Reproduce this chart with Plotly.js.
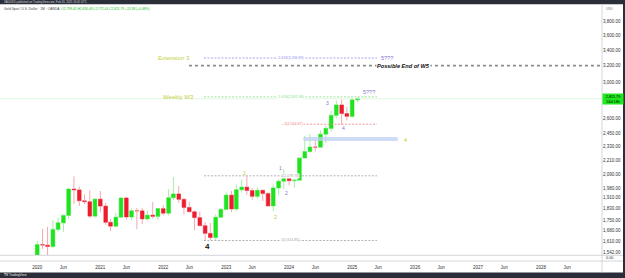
<!DOCTYPE html>
<html><head><meta charset="utf-8">
<script src="https://cdn.plot.ly/plotly-3.0.1.min.js"></script>
<style>html,body{margin:0;padding:0;background:#fff;overflow:hidden}#chart{width:625px;height:278px}</style>
</head><body><div id="chart"></div><script>
// ---- Data (monthly candles, XAUUSD) ----
const months = ['2020-01-01','2020-02-01','2020-03-01','2020-04-01','2020-05-01','2020-06-01','2020-07-01','2020-08-01','2020-09-01','2020-10-01','2020-11-01','2020-12-01',
'2021-01-01','2021-02-01','2021-03-01','2021-04-01','2021-05-01','2021-06-01','2021-07-01','2021-08-01','2021-09-01','2021-10-01','2021-11-01','2021-12-01',
'2022-01-01','2022-02-01','2022-03-01','2022-04-01','2022-05-01','2022-06-01','2022-07-01','2022-08-01','2022-09-01','2022-10-01','2022-11-01','2022-12-01',
'2023-01-01','2023-02-01','2023-03-01','2023-04-01','2023-05-01','2023-06-01','2023-07-01','2023-08-01','2023-09-01','2023-10-01','2023-11-01','2023-12-01',
'2024-01-01','2024-02-01','2024-03-01','2024-04-01','2024-05-01','2024-06-01','2024-07-01','2024-08-01','2024-09-01','2024-10-01','2024-11-01','2024-12-01',
'2025-01-01','2025-02-01'];
const open  = [1517.0,1589.2,1585.7,1577.2,1686.3,1730.3,1781.1,1975.0,1968.0,1886.1,1879.3,1776.2,
1898.4,1847.6,1734.0,1707.7,1769.0,1906.9,1770.3,1813.7,1813.6,1757.0,1783.2,1774.4,
1829.2,1796.6,1909.1,1937.5,1896.9,1837.6,1807.2,1765.9,1711.2,1660.6,1633.5,1768.6,
1824.0,1928.4,1826.9,1969.3,1990.0,1963.2,1919.3,1965.1,1940.2,1848.6,1983.4,2036.1,
2062.9,2039.9,2044.2,2229.9,2286.4,2327.3,2326.3,2447.4,2503.3,2634.6,2743.9,2653.2,
2624.4,2798.4];
const high  = [1611.4,1689.3,1703.4,1747.7,1765.4,1789.3,1981.3,2075.3,1992.5,1933.3,1965.6,1906.2,
1959.3,1871.6,1755.5,1798.1,1912.9,1916.6,1832.4,1834.0,1834.1,1813.9,1877.2,1831.0,
1853.9,1974.4,2070.4,1998.4,1910.0,1879.4,1814.6,1808.2,1735.2,1729.6,1786.6,1833.1,
1949.2,1959.8,2009.7,2048.8,2079.7,1983.4,1987.5,1966.0,1953.0,2009.4,2052.0,2135.4,
2088.5,2065.4,2222.6,2431.5,2450.3,2387.8,2483.7,2531.6,2685.6,2790.1,2801.6,2726.3,
2817.1,2830.5];
const low   = [1517.0,1562.8,1451.2,1567.4,1670.6,1671.0,1757.1,1863.4,1848.8,1860.4,1764.5,1765.0,
1802.8,1717.2,1676.8,1704.1,1765.4,1750.8,1750.4,1687.8,1721.7,1746.0,1758.9,1753.1,
1780.4,1781.1,1890.2,1872.3,1787.0,1805.2,1681.0,1709.1,1614.9,1617.3,1616.7,1765.7,
1823.8,1804.8,1809.5,1949.6,1932.1,1893.0,1902.8,1884.9,1846.1,1810.4,1931.7,1973.2,
2001.9,1984.2,2039.2,2228.8,2277.4,2286.9,2318.9,2364.2,2471.7,2603.6,2536.9,2583.4,
2614.1,2772.4];
const close = [1589.2,1585.7,1577.2,1686.3,1730.3,1781.1,1975.0,1968.0,1886.1,1879.3,1776.2,1898.4,
1847.6,1734.0,1707.7,1769.0,1906.9,1770.3,1813.7,1813.6,1757.0,1783.2,1774.4,1829.2,
1796.6,1909.1,1937.5,1896.9,1837.6,1807.2,1765.9,1711.2,1660.6,1633.5,1768.6,1824.0,
1928.4,1826.9,1969.3,1990.0,1963.2,1919.3,1965.1,1940.2,1848.6,1983.4,2036.1,2062.9,
2039.9,2044.2,2229.9,2286.4,2327.3,2326.3,2447.4,2503.3,2634.6,2743.9,2653.2,2624.4,
2798.4,2811.79];

const yTickVals = [1542,1610,1680,1750,1830,1910,1980,2090,2210,2330,2450,2600,3000,3200,3400,3600,3800];
const tickYears = [2020,2021,2022,2023,2024,2025,2026,2027,2028];

// Fib tool levels (ratio, price)
const fibRatios = ['1','0','-1','-1.618','-2.618'];
const fibPrices = [1614.85, 2079.76, 2544.67, 2831.98, 3296.89];
const fibColors = ['#a0a0a0','#a0a0a0','#f07c7c','#86e086','#8f8ff0'];
const fibStart  = ['2022-08-25','2022-08-25','2023-11-21','2022-08-25','2022-08-25'];
const fibEnd = '2025-05-25';
const w5Level = 3200;
const boxDates = ['2024-03-24','2025-09-22'];
const boxPrices = [2384, 2421];
const lastPrice = 2811.79;

// ---- helpers ----
const fmt = v => v.toLocaleString('en-US',{minimumFractionDigits:2, maximumFractionDigits:2});
const L = v => Math.log10(v);

const xTickVals = [], xTickText = [];
tickYears.forEach(y => { xTickVals.push(y+'-01-01'); xTickText.push(String(y)); xTickVals.push(y+'-06-01'); xTickText.push('Jun'); });

const GREEN = '#1fe31f', RED = '#ee1c2e', WG = '#a6eca6', WR = '#f5a7ae';
const isUp = open.map((o,i)=>close[i] >= o);
const bodyLow  = open.map((o,i)=>Math.min(o, close[i]));
const bodyHigh = open.map((o,i)=>Math.max(o, close[i]));
const bodySize = open.map((o,i)=>Math.abs(close[i]-o));
const DAY = 86400000;

// wick segments (low -> body bottom, body top -> high), split by direction
function wicks(up){
  const xs=[], ys=[];
  months.forEach((m,i)=>{
    if (isUp[i]!==up) return;
    xs.push(m,m,null,m,m,null);
    ys.push(low[i],bodyLow[i],null,bodyHigh[i],high[i],null);
  });
  return {xs, ys};
}
const wUp = wicks(true), wDn = wicks(false);

const traces = [];
// bodies (open-close as floating bars)
traces.push({type:'bar', x:months, y:bodySize, base:bodyLow, width:months.map(()=>21*DAY),
  marker:{color:isUp.map(u=>u?GREEN:RED), line:{color:isUp.map(u=>u?GREEN:RED), width:0.6}},
  hoverinfo:'skip'});
// wicks
traces.push({type:'scatter', mode:'lines', x:wUp.xs, y:wUp.ys, line:{color:WG, width:1}, connectgaps:false, hoverinfo:'skip'});
traces.push({type:'scatter', mode:'lines', x:wDn.xs, y:wDn.ys, line:{color:WR, width:1}, connectgaps:false, hoverinfo:'skip'});
// price line
traces.push({type:'scatter', mode:'lines', x:['2019-01-01','2030-01-01'], y:[lastPrice,lastPrice],
  line:{color:'#cdf3cd', width:0.6}, hoverinfo:'skip'});
// fib lines
fibPrices.forEach((p,i)=>{
  traces.push({type:'scatter', mode:'lines', x:[fibStart[i], fibEnd], y:[p,p],
    line:{color:fibColors[i], width:0.8, dash:'2px,1.5px'}, hoverinfo:'skip'});
});
// possible end of W5 line
traces.push({type:'scatter', mode:'lines', x:['2022-05-30','2030-01-01'], y:[w5Level,w5Level],
  line:{color:'#8c8c8c', width:1.8, dash:'3px,3px'}, hoverinfo:'skip'});
// blue zone
traces.push({type:'scatter', mode:'lines', x:[boxDates[0],boxDates[1],boxDates[1],boxDates[0],boxDates[0]],
  y:[boxPrices[0],boxPrices[0],boxPrices[1],boxPrices[1],boxPrices[0]], fill:'toself',
  fillcolor:'rgba(190,208,242,0.75)', line:{width:0}, hoverinfo:'skip'});

const ann = [];
const FF = 'Liberation Sans, Arial, sans-serif';
// fib labels
fibPrices.forEach((p,i)=>{
  const isRed = i===2;
  ann.push({x: isRed ? '2023-11-21' : '2024-01-08', y:L(p), xref:'x', yref:'y',
    text: fibRatios[i]+'('+fmt(p)+')', showarrow:false, xanchor: isRed?'left':'center', yanchor:'middle',
    font:{size:3.6, color:fibColors[i], family:FF}, bgcolor:'#ffffff', borderpad:0});
});
const textLab = (x,y,t,color,size,extra) => Object.assign({x:x, y:L(y), xref:'x', yref:'y', text:t, showarrow:false,
  xanchor:'center', yanchor:'middle', font:{size:size, color:color, family:FF}}, extra||{});
ann.push(textLab('2022-03-07', fibPrices[4], 'Extension 3', '#c4cf3c', 6));
ann.push(textLab('2022-04-02', fibPrices[3], 'Weekly W3', '#c4cf3c', 6));
ann.push(textLab('2025-06-05', fibPrices[4], '5???', '#8a72cc', 5.5, {xanchor:'left'}));
ann.push(textLab('2025-04-11', 2888, '5???', '#8a72cc', 5.5));
ann.push(textLab('2025-10-23', w5Level, '<b><i>Possible End of W5</i></b>', '#111111', 5.6, {bgcolor:'#ffffff', borderpad:0}));
ann.push(textLab('2022-09-17', 1576, '<b>4</b>', '#111111', 8));
ann.push(textLab('2023-04-16', 2103, '1', '#c8c82c', 5.5));
ann.push(textLab('2023-10-15', 1772, '2', '#c8c82c', 5.5));
ann.push(textLab('2025-11-09', 2392, '4', '#c8c82c', 5.5));
ann.push(textLab('2023-11-11', 2145, '1', '#8a72cc', 5));
ann.push(textLab('2023-12-14', 1946, '2', '#8a72cc', 5));
ann.push(textLab('2024-08-10', 2770, '3', '#8a72cc', 5));
ann.push(textLab('2024-11-10', 2505, '4', '#8a72cc', 5));
// price tag on axis
ann.push({x:1.0005, xref:'paper', y:L(lastPrice), yref:'y', text:fmt(lastPrice)+'<br>24d 18h', showarrow:false,
  xanchor:'left', yanchor:'middle', align:'center', bgcolor:'#1ee81e', borderpad:0.6, width:19,
  font:{size:3.8, color:'#000', family:FF}});
// header legend
ann.push({x:0.004, xref:'paper', y:(255-9)/250, yref:'paper', showarrow:false, xanchor:'left', yanchor:'middle',
  text:'Gold Spot / U.S. Dollar · 1M · OANDA  <span style="color:#22c022">O2,798.41 H2,830.49 L2,772.44 C2,811.79 +13.38 (+0.48%)</span>',
  font:{size:3.3, color:'#444', family:FF}});
// top bar text
ann.push({x:0.004, xref:'paper', y:(255-2)/250, yref:'paper', showarrow:false, xanchor:'left', yanchor:'middle',
  text:'XAUUSD published on TradingView.com, Feb 03, 2025 16:05 UTC', font:{size:2.8, color:'#cfd2d8', family:FF}});
// bottom bar
ann.push({x:0.004, xref:'paper', y:(255-275)/250, yref:'paper', showarrow:false, xanchor:'left', yanchor:'middle',
  text:'<b>TV</b> TradingView', font:{size:3.2, color:'#e8e8e8', family:FF}});
// misc axis labels
ann.push({x:1.003, xref:'paper', y:(255-257.6)/250, yref:'paper', showarrow:false, xanchor:'left', yanchor:'middle',
  text:'0.00', font:{size:3.8, color:'#333', family:FF}});
ann.push({x:1.003, xref:'paper', y:(255-9.3)/250, yref:'paper', showarrow:false, xanchor:'left', yanchor:'middle',
  text:'USD', font:{size:3.2, color:'#777', family:FF}});

const P = px => (255 - px)/250;   // pixel row -> paper y
const shapes = [
  {type:'rect', xref:'paper', yref:'paper', x0:-0.01, x1:1.05, y0:P(4.3), y1:P(-2), fillcolor:'#2a2e39', line:{width:0}, layer:'above'},
  {type:'rect', xref:'paper', yref:'paper', x0:-0.01, x1:1.05, y0:P(280), y1:P(272.5), fillcolor:'#2a2e39', line:{width:0}, layer:'above'},
  {type:'rect', xref:'paper', yref:'paper', x0:623/602, x1:1.05, y0:P(280), y1:P(-2), fillcolor:'#2a2e39', line:{width:0}, layer:'above'},
  {type:'line', xref:'paper', yref:'paper', x0:0, x1:623/602, y0:P(255.3), y1:P(255.3), line:{color:'#c8cbd2', width:0.8}},
  {type:'line', xref:'paper', yref:'paper', x0:0, x1:623/602, y0:P(261), y1:P(261), line:{color:'#c8cbd2', width:0.8}},
  {type:'line', xref:'paper', yref:'paper', x0:1, x1:1, y0:P(272.5), y1:P(4.3), line:{color:'#c8cbd2', width:0.8}}
];

const layout = {
  width:625, height:278, margin:{l:0, r:23, t:5, b:23},
  paper_bgcolor:'#ffffff', plot_bgcolor:'#ffffff', showlegend:false, hovermode:false,
  xaxis:{type:'date', range:['2019-05-30','2028-12-20'], tickvals:xTickVals, ticktext:xTickText,
    tickfont:{size:4.5, color:'#333', family:FF}, showgrid:false, zeroline:false, ticks:'',
    ticklabelstandoff:8, fixedrange:true},
  yaxis:{type:'log', side:'right', range:[3.18349, 3.60814], tickvals:yTickVals,
    ticktext:yTickVals.map(fmt), tickfont:{size:4.5, color:'#333', family:FF},
    showgrid:false, zeroline:false, ticks:'', fixedrange:true},
  annotations:ann, shapes:shapes, barmode:'overlay'
};
Plotly.newPlot('chart', traces, layout, {displayModeBar:false, staticPlot:true});
</script></body></html>
